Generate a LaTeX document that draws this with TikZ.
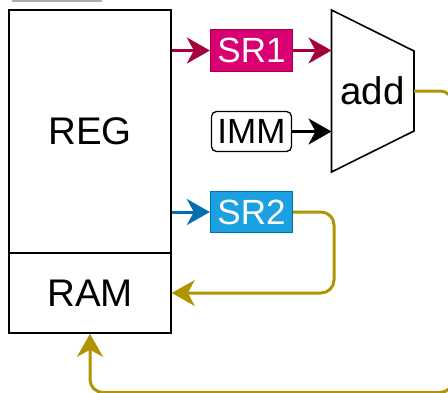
\documentclass[tikz,border=0pt]{standalone}
\usepackage{fontspec}
\setmainfont{Liberation Sans}
\usetikzlibrary{arrows.meta}
\definecolor{srone}{HTML}{D80073}
\definecolor{sronedk}{HTML}{A50040}
\definecolor{srtwo}{HTML}{1BA1E2}
\definecolor{srtwodk}{HTML}{006EAF}
\definecolor{gold}{HTML}{B09500}
\tikzset{
  bigbox/.style={draw=black, line width=1.6pt, inner sep=0pt, minimum width=162pt, font=\fontsize{38.5}{40}\selectfont},
  regbox/.style={inner sep=0pt, minimum width=82pt, minimum height=42pt, line width=1.3pt, font=\fontsize{35}{36}\selectfont},
  conn/.style={line width=3pt, -{Stealth[length=23pt,width=26pt,inset=7pt]}},
  wire/.style={line width=3pt, draw=gold, rounded corners=13pt},
}
\begin{document}
\begin{tikzpicture}[x=1pt,y=-1pt]
\useasboundingbox (0,0) rectangle (448,392);
\clip (0,0) rectangle (448,392);
% partial element at top
\draw[line width=1.7pt, draw=black!32] (12,0.8) -- (102,0.8);
% REG / RAM
\node[bigbox, minimum height=243pt] (reg) at (90,131.5) {REG};
\node[bigbox, minimum height=80pt] (ram) at (90,293) {RAM};
% registers
\node[regbox, fill=srone, draw=sronedk, text=white] (sr1) at (251.5,50.5) {SR1};
\node[regbox, fill=white, draw=black, rounded corners=5pt, minimum width=80pt, minimum height=40pt] (imm) at (251.5,131.5) {IMM};
\node[regbox, fill=srtwo, draw=srtwodk, text=white, minimum height=41pt] (sr2) at (251.5,212) {SR2};
% adder
\coordinate (atl) at (331.5,10);
\coordinate (atr) at (414,51);
\coordinate (abr) at (414,131);
\coordinate (abl) at (331.5,172);
\draw[line width=1.6pt, fill=white] (atl) -- (atr) -- (abr) -- (abl) -- cycle;
\node[inner sep=0pt, font=\fontsize{38.5}{40}\selectfont] (add) at (372.5,91) {add};
\coordinate (aout) at (414,91);
\coordinate (ain1) at (331.5,50.5);
\coordinate (ain2) at (331.5,131.5);
% connectors
\draw[conn, draw=sronedk] (reg.east |- sr1.west) -- (sr1.west);
\draw[conn, draw=sronedk] (sr1.east) -- (ain1);
\draw[conn, draw=black] (imm.east) -- (ain2);
\draw[conn, draw=srtwodk] (reg.east |- sr2.west) -- (sr2.west);
\coordinate (c1) at (334,212);
\draw[wire, conn] (sr2.east) -- (c1) |- (ram.east);
\coordinate (c2) at (453,91);
\coordinate (c3) at (453,392.5);
\draw[wire, conn] (aout) -- (c2) -- (c3) -| (ram.south);
\end{tikzpicture}
\end{document}
